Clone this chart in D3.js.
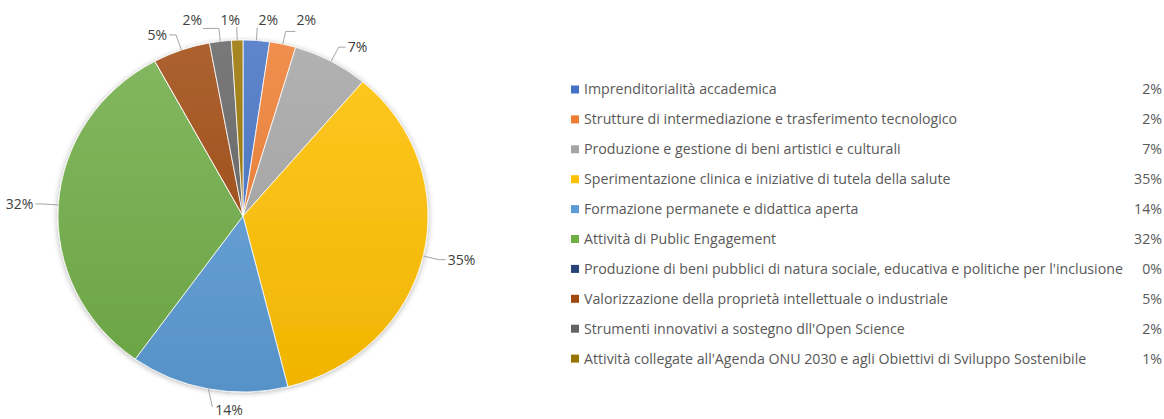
<!DOCTYPE html>
<html>
<head>
<meta charset="utf-8">
<style>
body { margin: 0; background: #fff; }
text { font-family: "Open Sans", sans-serif; }
</style>
</head>
<body>
<script src="https://cdn.jsdelivr.net/npm/d3@7"></script>
<script>
var categories = [
  "Imprenditorialità accademica",
  "Strutture di intermediazione e trasferimento tecnologico",
  "Produzione e gestione di beni artistici e culturali",
  "Sperimentazione clinica e iniziative di tutela della salute",
  "Formazione permanete e didattica aperta",
  "Attività di Public Engagement",
  "Produzione di beni pubblici di natura sociale, educativa e politiche per l'inclusione",
  "Valorizzazione della proprietà intellettuale o industriale",
  "Strumenti innovativi a sostegno dll'Open Science",
  "Attività collegate all'Agenda ONU 2030 e agli Obiettivi di Sviluppo Sostenibile"
];
var values = [2.3, 2.3, 6.6, 34.9, 13.8, 32.2, 0, 5.0, 1.9, 1.0];
var colors = ["#4472c4", "#ed7d31", "#a5a5a5", "#ffc000", "#5b9bd5",
              "#70ad47", "#264478", "#9e480e", "#636363", "#997300"];

var width = 1164, height = 419;
var cx = 243, cy = 216, rx = 185, ry = 176;

var total = d3.sum(values);
var pct = function(v) { return Math.round(v / total * 100) + "%"; };

var svg = d3.select("body").append("svg")
    .attr("width", width)
    .attr("height", height);

var defs = svg.append("defs");

var shadow = defs.append("filter")
    .attr("id", "shadow")
    .attr("x", "-10%").attr("y", "-10%")
    .attr("width", "120%").attr("height", "120%");
shadow.append("feGaussianBlur").attr("in", "SourceAlpha").attr("stdDeviation", 3);
shadow.append("feOffset").attr("dx", 0).attr("dy", 1).attr("result", "blur");
shadow.append("feComponentTransfer").append("feFuncA").attr("type", "linear").attr("slope", 0.3);
var merge = shadow.append("feMerge");
merge.append("feMergeNode");
merge.append("feMergeNode").attr("in", "SourceGraphic");

colors.forEach(function(c, i) {
  var g = defs.append("linearGradient")
      .attr("id", "grad" + i)
      .attr("gradientUnits", "userSpaceOnUse")
      .attr("x1", 0).attr("y1", -rx)
      .attr("x2", 0).attr("y2", rx);
  g.append("stop").attr("offset", "0%").attr("stop-color", d3.interpolateRgb(c, "#fff")(0.14));
  g.append("stop").attr("offset", "100%").attr("stop-color", d3.interpolateRgb(c, "#000")(0.06));
});

var pie = d3.pie().sort(null).value(function(d) { return d; });
var arcs = pie(values);

var arc = d3.arc().innerRadius(0).outerRadius(rx);

var pieG = svg.append("g")
    .attr("transform", "translate(" + cx + "," + cy + ") scale(1," + (ry / rx) + ")")
    .attr("filter", "url(#shadow)");

pieG.selectAll("path")
    .data(arcs)
  .enter().append("path")
    .attr("d", arc)
    .attr("fill", function(d, i) { return "url(#grad" + i + ")"; })
    .attr("stroke", "#fff")
    .attr("stroke-width", 0.8);

// point on the (slightly squashed) pie edge, pushed out by r
function pt(a, r) {
  return [cx + Math.sin(a) * (rx + r), cy - Math.cos(a) * (ry + r)];
}

var lab = svg.append("g");
var labels = arcs.filter(function(d) { return d.value > 0; }).map(function(d) {
  var a = (d.startAngle + d.endAngle) / 2;
  var t = lab.append("text")
      .attr("dy", "0.35em")
      .attr("fill", "#404040")
      .style("font-size", "14px")
      .text(pct(d.value));
  var o = { a: a, p0: pt(a, 0), t: t, w: t.node().getComputedTextLength() };
  o.mode = Math.cos(a) > 0.97 ? "top" : Math.cos(a) < -0.97 ? "bottom" : "side";
  return o;
});

// spread the crowded labels along the top
var topRow = labels.filter(function(l) { return l.mode == "top"; })
    .sort(function(a, b) { return a.p0[0] - b.p0[0]; });
topRow.forEach(function(l) { l.x = l.p0[0]; });
for (var k = 0; k < 100; k++) {
  for (var j = 1; j < topRow.length; j++) {
    var gap = 38 - (topRow[j].x - topRow[j - 1].x);
    if (gap > 0) { topRow[j].x += gap / 2; topRow[j - 1].x -= gap / 2; }
  }
}

labels.forEach(function(l) {
  var pts, s = Math.sin(l.a) >= 0 ? 1 : -1;
  if (l.mode == "top") {
    var p1 = pt(l.a, 13), ly = cy - ry - 20;
    var left = l.x - l.w / 2, right = l.x + l.w / 2;
    var ex = p1[0] < left ? left - 1 : p1[0] > right ? right + 1 : p1[0];
    pts = [l.p0, p1, [ex, p1[1]]];
    l.t.attr("x", l.x).attr("y", ly).attr("text-anchor", "middle");
  } else if (l.mode == "bottom") {
    var q = [l.p0[0] + 4, l.p0[1] + 18];
    pts = [l.p0, q];
    l.t.attr("x", q[0] + 3).attr("y", q[1] + 3).attr("text-anchor", "start");
  } else {
    var p1s = pt(l.a, 16), p2 = [p1s[0] + s * 7, p1s[1]];
    pts = [l.p0, p1s, p2];
    l.t.attr("x", p2[0] + s * 2).attr("y", p2[1])
        .attr("text-anchor", s > 0 ? "start" : "end");
  }
  lab.insert("polyline", "text")
      .attr("points", pts.map(function(p) { return p.join(","); }).join(" "))
      .attr("fill", "none")
      .attr("stroke", "#a6a6a6")
      .attr("stroke-width", 1);
});

// legend
var legend = svg.selectAll(".legend")
    .data(categories)
  .enter().append("g")
    .attr("class", "legend")
    .attr("transform", function(d, i) { return "translate(0," + (89.5 + i * 29.9) + ")"; });

legend.append("rect")
    .attr("x", 571)
    .attr("y", -4)
    .attr("width", 8)
    .attr("height", 8)
    .attr("fill", function(d, i) { return colors[i]; });

legend.append("text")
    .attr("x", 584)
    .attr("dy", "0.35em")
    .attr("fill", "#595959")
    .style("font-size", "14.2px")
    .text(function(d) { return d; });

legend.append("text")
    .attr("x", 1162)
    .attr("dy", "0.35em")
    .attr("text-anchor", "end")
    .attr("fill", "#595959")
    .style("font-size", "14.2px")
    .text(function(d, i) { return pct(values[i]); });
</script>
</body>
</html>
